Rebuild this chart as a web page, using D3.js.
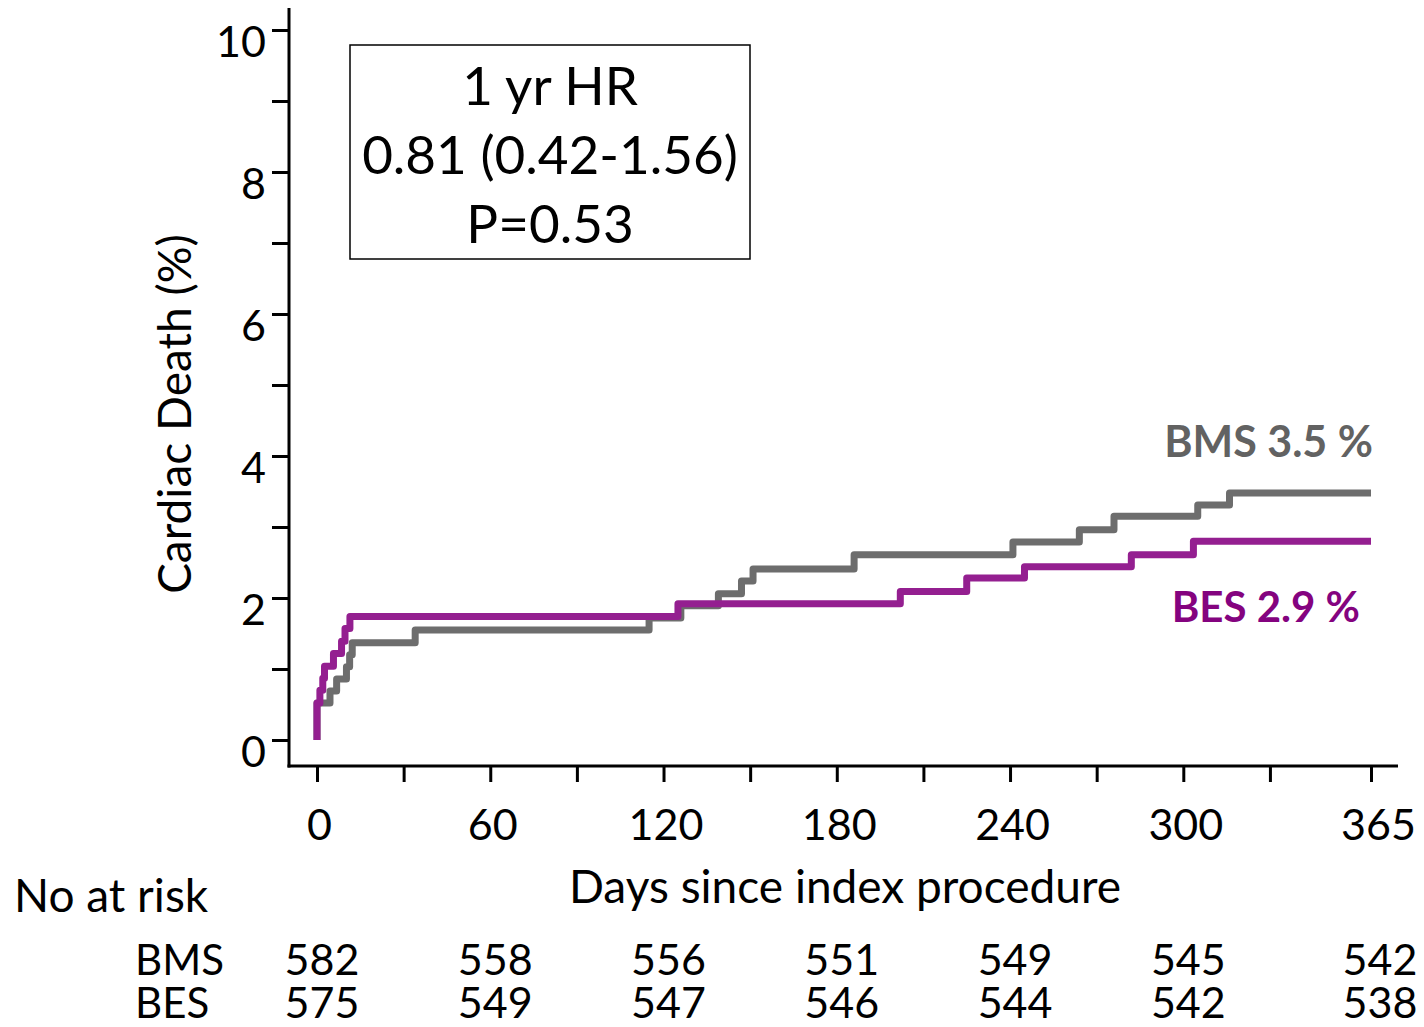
<!DOCTYPE html>
<html>
<head>
<meta charset="utf-8">
<script src="https://cdn.jsdelivr.net/npm/d3@7"></script>
<style>
  body { margin: 0; background: #fff; }
  text { font-family: Lato, "Open Sans", sans-serif; fill: #000; }
</style>
</head>
<body>
<svg id="chart" width="1424" height="1027"></svg>
<script>
var width = 1424;
var height = 1027;

// cumulative cardiac death (%), step after each day
var bmsDays = [0, 0, 4.5, 6.8, 10.2, 11.3, 12.2, 34, 115, 126, 139, 147, 151, 186, 241, 264, 276, 305, 316, 365];
var bmsPct  = [0, 0.52, 0.69, 0.86, 1.03, 1.20, 1.37, 1.55, 1.72, 1.89, 2.06, 2.24, 2.41, 2.61, 2.79, 2.96, 3.15, 3.31, 3.48, 3.48];
var besDays = [0, 0, 1, 2, 2.6, 5.7, 8.5, 9.7, 11.4, 125, 202, 225, 245, 282, 303.5, 365];
var besPct  = [0, 0.52, 0.70, 0.87, 1.04, 1.22, 1.39, 1.57, 1.74, 1.92, 2.09, 2.28, 2.44, 2.61, 2.80, 2.80];

var xTicks = [0, 30, 60, 90, 120, 150, 180, 210, 240, 270, 300, 330, 365];
var xLabels = [0, 60, 120, 180, 240, 300, 365];
var yTicks = [0, 1, 2, 3, 4, 5, 6, 7, 8, 9, 10];
var yLabels = [0, 2, 4, 6, 8, 10];

var riskDays = [0, 60, 120, 180, 240, 300, 365];
var bmsRisk = [582, 558, 556, 551, 549, 545, 542];
var besRisk = [575, 549, 547, 546, 544, 542, 538];

var hrLines = ["1 yr HR", "0.81 (0.42-1.56)", "P=0.53"];

var gray = "#6d6d6d";
var purple = "#941f90";

var svg = d3.select("#chart");

var x = d3.scaleLinear().domain([0, 365]).range([317, 1371]);
var y = d3.scaleLinear().domain([0, 10]).range([740, 30]);

var axisX = 289, axisY = 766;

// axes lines
svg.append("line")
    .attr("x1", axisX).attr("x2", axisX)
    .attr("y1", 8).attr("y2", axisY + 1.5)
    .style("stroke", "#000").style("stroke-width", 3);
svg.append("line")
    .attr("x1", axisX - 1.5).attr("x2", 1398)
    .attr("y1", axisY).attr("y2", axisY)
    .style("stroke", "#000").style("stroke-width", 3);

// y axis
var yAxis = svg.append("g")
    .attr("transform", "translate(" + axisX + ",0)")
    .call(d3.axisLeft(y)
        .tickValues(yTicks)
        .tickSize(17)
        .tickPadding(6)
        .tickFormat(function (d) { return yLabels.indexOf(d) >= 0 ? d : ""; }));
yAxis.select(".domain").remove();
yAxis.selectAll("line").style("stroke", "#000").style("stroke-width", 3);
yAxis.selectAll("text")
    .attr("dy", "0.62em")
    .style("font-size", "43px")
    .style("font-family", "Lato")
    .style("fill", "#000");

// x axis
var xAxis = svg.append("g")
    .attr("transform", "translate(0," + axisY + ")")
    .call(d3.axisBottom(x)
        .tickValues(xTicks)
        .tickSize(16)
        .tickFormat(function (d) { return xLabels.indexOf(d) >= 0 ? d : ""; }));
xAxis.select(".domain").remove();
xAxis.selectAll("line").style("stroke", "#000").style("stroke-width", 3);
xAxis.selectAll("text")
    .attr("y", 74)
    .attr("dy", 0)
    .attr("dx", function (d) { return d === 365 ? 7 : 2; })
    .style("font-size", "43px")
    .style("font-family", "Lato")
    .style("fill", "#000");

// curves
var line = d3.line()
    .x(function (d) { return x(d[0]); })
    .y(function (d) { return y(d[1]); })
    .curve(d3.curveStepAfter);

var bms = d3.zip(bmsDays, bmsPct);
var bes = d3.zip(besDays, besPct);

svg.append("path")
    .datum(bms)
    .attr("d", line)
    .style("fill", "none")
    .style("stroke", gray)
    .style("stroke-width", 7)
    .style("stroke-linejoin", "round");
svg.append("path")
    .datum(bes)
    .attr("d", line)
    .style("fill", "none")
    .style("stroke", purple)
    .style("stroke-width", 7)
    .style("stroke-linejoin", "round");

// curve labels
svg.append("text")
    .attr("x", 1373).attr("y", 457)
    .attr("text-anchor", "end")
    .style("font-weight", "bold")
    .style("font-size", "43px")
    .style("fill", "#626262")
    .text("BMS 3.5 %");
svg.append("text")
    .attr("x", 1360).attr("y", 622)
    .attr("text-anchor", "end")
    .style("font-weight", "bold")
    .style("font-size", "42px")
    .style("fill", "#84037f")
    .text("BES 2.9 %");

// HR box
svg.append("rect")
    .attr("x", 350).attr("y", 45)
    .attr("width", 400).attr("height", 214)
    .style("fill", "none")
    .style("stroke", "#000")
    .style("stroke-width", 1.5);
svg.selectAll(".hr")
    .data(hrLines)
    .enter().append("text")
    .attr("class", "hr")
    .attr("x", 550)
    .attr("y", function (d, i) { return 105 + i * 69; })
    .attr("text-anchor", "middle")
    .style("font-size", "53px")
    .text(function (d) { return d; });

// axis titles
svg.append("text")
    .attr("transform", "translate(191,414) rotate(-90)")
    .attr("text-anchor", "middle")
    .style("font-size", "46px")
    .text("Cardiac Death (%)");
svg.append("text")
    .attr("x", 845).attr("y", 903)
    .attr("text-anchor", "middle")
    .style("font-size", "46px")
    .text("Days since index procedure");

// numbers at risk
svg.append("text")
    .attr("x", 14).attr("y", 912)
    .style("font-size", "46px")
    .text("No at risk");
svg.append("text")
    .attr("x", 135).attr("y", 975)
    .style("font-size", "42px")
    .text("BMS");
svg.append("text")
    .attr("x", 135).attr("y", 1018)
    .style("font-size", "42px")
    .text("BES");

svg.selectAll(".riskBms")
    .data(bmsRisk)
    .enter().append("text")
    .attr("class", "riskBms")
    .attr("x", function (d, i) { return x(riskDays[i]) + (i === 6 ? 9 : 5); })
    .attr("y", 975)
    .attr("text-anchor", "middle")
    .style("font-size", "43px")
    .text(function (d) { return d; });
svg.selectAll(".riskBes")
    .data(besRisk)
    .enter().append("text")
    .attr("class", "riskBes")
    .attr("x", function (d, i) { return x(riskDays[i]) + (i === 6 ? 9 : 5); })
    .attr("y", 1018)
    .attr("text-anchor", "middle")
    .style("font-size", "43px")
    .text(function (d) { return d; });
</script>
</body>
</html>
